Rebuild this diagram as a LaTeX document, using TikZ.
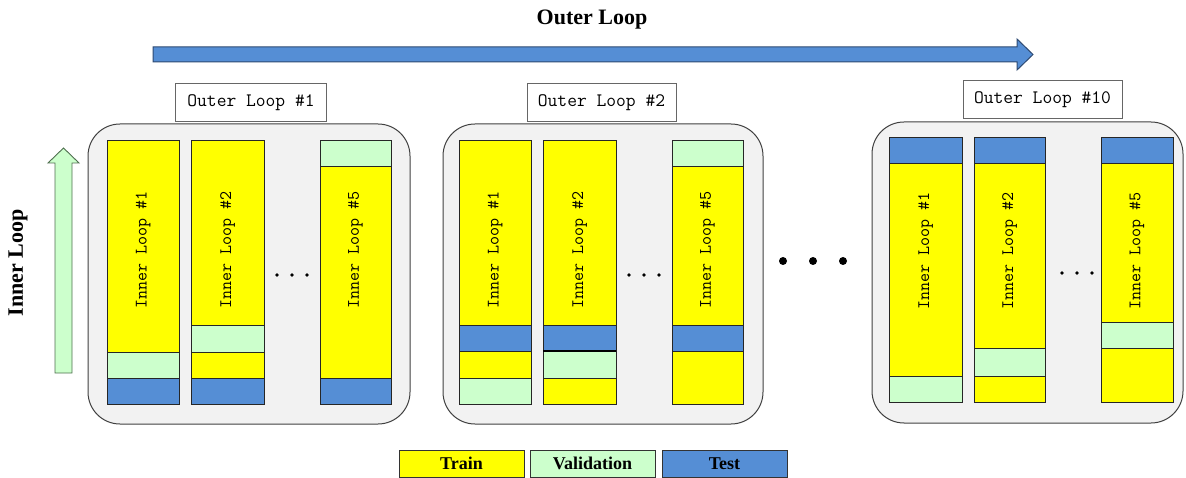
\documentclass[tikz,border=0pt]{standalone}
\usepackage{fontspec}
\setmainfont{Liberation Serif}
\definecolor{trainc}{HTML}{FFFF00}
\definecolor{validc}{HTML}{CCFFCC}
\definecolor{testc}{HTML}{558ED5}
\definecolor{panelfill}{HTML}{F2F2F2}
\definecolor{panelline}{HTML}{404040}
\definecolor{arrowline}{HTML}{2E4A72}
\definecolor{greenline}{HTML}{4F6F4F}
\newcommand\seg[5]{\draw[segbox, fill=#5] (#1,#3) rectangle (#2,#4);}
\tikzset{
  panel/.style={draw=panelline, fill=panelfill, line width=1pt, rounded corners=32pt},
  segbox/.style={draw=black!85, line width=0.8pt},
  titlebox/.style={draw=gray!80!black, fill=white, line width=0.7pt, inner sep=0pt,
    font=\ttfamily\fontsize{19}{19}\selectfont, minimum height=38pt},
  looplabel/.style={rotate=90, inner sep=0pt, font=\ttfamily\fontsize{17.5}{17.5}\selectfont},
  legendbox/.style={draw=black!80, line width=0.8pt, inner sep=0pt, minimum width=125pt,
    minimum height=27pt, font=\bfseries\fontsize{18}{18}\selectfont},
  heading/.style={font=\bfseries\fontsize{22}{22}\selectfont, inner sep=0pt},
  smalldot/.style={fill=black},
}
\begin{document}
\begin{tikzpicture}[x=1pt,y=-1pt]
\useasboundingbox (0,0) rectangle (1186,478);

% headings and block arrows
\node[heading] (outer) at (592,20) {Outer Loop};
\draw[draw=arrowline, fill=testc, line width=1pt, line join=miter]
  (153,47) -- (1017,47) -- (1017,39) -- (1033,54.5) -- (1017,70) -- (1017,62) -- (153,62) -- cycle;
\node[heading, rotate=90] (inner) at (18,263) {Inner Loop};
\draw[draw=greenline, fill=validc, line width=0.9pt]
  (55,373) -- (55,163) -- (48,163) -- (63.5,148) -- (79,163) -- (72,163) -- (72,373) -- cycle;

% outer loop panels
\node[panel, minimum width=322pt, minimum height=300pt] (p1) at (249,274) {};
\node[panel, minimum width=320pt, minimum height=300pt] (p2) at (603,274) {};
\node[panel, minimum width=311pt, minimum height=301pt] (p3) at (1027.5,272.5) {};

\node[titlebox, minimum width=151pt] (t1) at (251,102.5) {Outer Loop \#1};
\node[titlebox, minimum width=149pt] (t2) at (601.5,102.5) {Outer Loop \#2};
\node[titlebox, minimum width=159pt] (t3) at (1042.5,99.5) {Outer Loop \#10};

% outer loop 1
\seg{107}{179}{140}{352}{trainc}
\seg{107}{179}{352}{378}{validc}
\seg{107}{179}{378}{404}{testc}
\seg{191}{264}{140}{325}{trainc}
\seg{191}{264}{325}{352}{validc}
\seg{191}{264}{352}{378}{trainc}
\seg{191}{264}{378}{404}{testc}
\seg{320}{391}{140}{166}{validc}
\seg{320}{391}{166}{378}{trainc}
\seg{320}{391}{378}{404}{testc}
\node[looplabel] (l11) at (143,250) {Inner Loop \#1};
\node[looplabel] (l12) at (227.5,250) {Inner Loop \#2};
\node[looplabel] (l15) at (355.5,250) {Inner Loop \#5};
\foreach \dx in {277,292,307} \fill[smalldot] (\dx,275) circle (1.8);

% outer loop 2
\seg{459}{531}{140}{325}{trainc}
\seg{459}{531}{325}{351}{testc}
\seg{459}{531}{351}{378}{trainc}
\seg{459}{531}{378}{404}{validc}
\seg{543}{616}{140}{325}{trainc}
\seg{543}{616}{325}{351}{testc}
\seg{543}{616}{351}{378}{validc}
\seg{543}{616}{378}{404}{trainc}
\draw[line width=1.8pt] (543,351) -- (616,351);
\seg{672}{743}{140}{166}{validc}
\seg{672}{743}{166}{325}{trainc}
\seg{672}{743}{325}{351}{testc}
\seg{672}{743}{351}{404}{trainc}
\node[looplabel] (l21) at (495,250) {Inner Loop \#1};
\node[looplabel] (l22) at (579.5,250) {Inner Loop \#2};
\node[looplabel] (l25) at (707.5,250) {Inner Loop \#5};
\foreach \dx in {629,644,659} \fill[smalldot] (\dx,275) circle (1.8);

% gap between panels
\foreach \dx in {783,813,843} \fill (\dx,261) circle (4);

% outer loop 10
\seg{889}{962}{137}{163}{testc}
\seg{889}{962}{163}{376}{trainc}
\seg{889}{962}{376}{402}{validc}
\seg{974}{1045}{137}{163}{testc}
\seg{974}{1045}{163}{348}{trainc}
\seg{974}{1045}{348}{376}{validc}
\seg{974}{1045}{376}{402}{trainc}
\seg{1101}{1173}{137}{163}{testc}
\seg{1101}{1173}{163}{322}{trainc}
\seg{1101}{1173}{322}{348}{validc}
\seg{1101}{1173}{348}{402}{trainc}
\node[looplabel] (l31) at (925.5,251) {Inner Loop \#1};
\node[looplabel] (l32) at (1009.5,251) {Inner Loop \#2};
\node[looplabel] (l35) at (1137,251) {Inner Loop \#5};
\foreach \dx in {1062,1077,1092} \fill[smalldot] (\dx,273) circle (1.8);

% legend
\node[legendbox, fill=trainc] (train) at (461.5,463.5) {Train};
\node[legendbox, fill=validc] (valid) at (592.5,463.5) {Validation};
\node[legendbox, fill=testc] (test) at (724.5,463.5) {Test};
\end{tikzpicture}
\end{document}
